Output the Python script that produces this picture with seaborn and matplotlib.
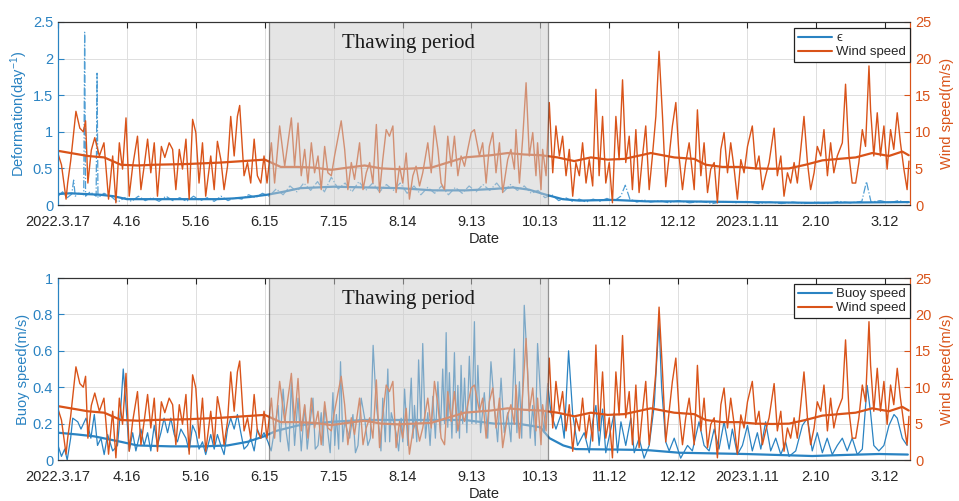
import matplotlib
matplotlib.use('Agg')
import matplotlib.pyplot as plt
from matplotlib.lines import Line2D
import pandas as pd
import seaborn as sns

# x axis: days since 2022-03-17
tick_days = [0, 30, 60, 90, 120, 150, 180, 210, 240, 270, 300, 330, 360]
tick_labels = ['2022.3.17', '4.16', '5.16', '6.15', '7.15', '8.14', '9.13',
               '10.13', '11.12', '12.12', '2023.1.11', '2.10', '3.12']
thaw_start, thaw_end = 91.8, 213.5

# raw wind speed (day, m/s)
wind_raw = [
    (0, 7.0), (1.5, 5.5), (3.5, 0.8), (4.2, 3.0), (5.5, 6.0), (7.8, 12.8), (9.5, 10.5), (11, 10.0), (12, 11.5), (13, 3.0),
    (14.5, 7.5), (16, 9.2), (18, 6.7), (20, 8.5), (22, 0.8), (23.8, 6.7), (25.2, 0.3), (26.7, 8.5), (28.1, 4.9), (29.6, 11.9),
    (31, 1.2), (32.5, 5.3), (34.6, 9.4), (36.1, 2.1), (37.5, 5.3), (39, 9.0), (40.4, 4.4), (41.9, 8.5), (43.3, 1.2), (45, 8.0),
    (46.5, 6.5), (48.4, 8.5), (49.9, 7.6), (51.3, 2.1), (52.8, 7.6), (54.2, 4.9), (55.7, 9.0), (57.1, 0.8), (58.6, 11.7), (60, 9.9),
    (61.4, 3.0), (62.9, 8.5), (64.3, 1.2), (66.5, 6.7), (68, 2.1), (69.4, 8.7), (70.9, 6.2), (72.3, 2.1), (73.8, 5.3), (75.2, 12.1),
    (76.7, 6.7), (78.1, 12.1), (79.1, 13.6), (81, 4.0), (82.5, 5.8), (83.9, 3.0), (85.4, 9.0), (86.8, 4.0), (88.3, 3.0), (89.7, 6.7),
    (91.0, 3.0), (92.9, 8.5), (94.3, 3.0), (96.5, 10.8), (98.7, 5.3), (101.6, 11.9), (103, 5.3), (104.5, 11.2), (105.9, 4.0), (107.4, 7.6),
    (108.8, 3.0), (110.3, 8.5), (111.7, 4.4), (113.2, 6.7), (114.6, 2.1), (116.1, 8.0), (117.5, 4.4), (119, 4.0), (120.4, 6.7), (123.3, 11.5),
    (124.8, 7.6), (126.2, 2.1), (127.7, 5.8), (129.1, 3.5), (131.3, 8.5), (132.8, 2.1), (134.2, 4.4), (135.7, 5.8), (137.1, 3.0), (138.6, 11.0),
    (140, 1.7), (141.4, 6.2), (142.9, 10.3), (144.3, 9.4), (145.8, 10.8), (147.2, 1.7), (148.7, 5.3), (150.1, 3.0), (151.6, 7.1), (153, 0.8),
    (154.5, 4.0), (155.9, 5.3), (157.4, 2.6), (158.8, 4.4), (161, 8.5), (162.5, 4.4), (163.9, 10.8), (165.4, 7.6), (166.8, 3.0), (168.3, 2.1),
    (169.7, 9.4), (171.2, 5.3), (172.6, 9.4), (174.1, 4.0), (175.5, 6.7), (177, 5.3), (178.4, 7.6), (179.9, 9.9), (181.3, 10.3),
    (183.5, 6.7), (184.9, 8.5), (186.4, 3.0), (187.8, 8.0), (189.3, 9.9), (190.7, 4.4), (192.2, 8.5), (193.6, 1.7), (195.8, 6.2), (197.2, 7.6),
    (198.7, 4.9), (199.4, 10.3), (200.9, 3.0), (202.3, 9.0), (203.8, 16.7), (205.2, 6.7), (206.7, 9.9), (208.1, 4.0), (208.8, 8.5), (210.3, 2.1),
    (211, 7.6), (212.5, 4.0), (213.9, 14.0), (215.4, 4.4), (216.8, 10.8), (218.3, 6.7), (219.7, 9.4), (221.2, 4.0), (222.6, 7.6), (224.1, 1.2),
    (225.5, 5.8), (227, 4.0), (228.4, 8.5), (229.9, 3.0), (231.3, 6.2), (232.8, 2.6), (234.2, 15.8), (235.6, 4.0), (237.1, 12.1), (238.5, 3.0),
    (240, 5.8), (241.4, 0.3), (242.9, 12.1), (244.3, 6.2), (245.8, 17.1), (247.2, 5.8), (248.7, 9.4), (250.1, 2.1), (251.6, 10.3), (253, 1.7),
    (254.5, 6.7), (255.9, 10.8), (257.4, 2.1), (258.8, 6.7), (260.3, 12.1), (261.7, 21.0), (263.2, 12.1), (264.6, 2.5), (266.1, 6.7), (267.5, 10.8),
    (269, 14.0), (270.4, 6.7), (271.9, 2.1), (273.3, 5.8), (274.8, 8.5),
    (277, 2.1), (278.4, 13.0), (279.9, 4.0), (281.3, 8.5), (282.8, 1.7), (284.2, 4.9), (285.7, 5.8), (287.1, 0.3), (288.6, 7.6), (290, 9.9),
    (291.5, 4.4), (292.9, 8.5), (294.4, 4.9), (295.8, 0.8), (297.3, 6.2), (298.7, 4.4), (300.2, 8.0), (302.3, 10.8), (303.8, 4.9), (305.2, 6.7),
    (306.7, 2.1), (308.1, 4.0), (309.6, 5.8), (311.8, 10.5), (313.2, 4.0), (314.7, 6.7), (316.1, 1.2), (317.6, 4.4), (319, 3.0), (320.5, 5.8),
    (321.9, 3.0), (323.4, 7.6), (324.8, 12.1), (326.3, 5.8), (327.7, 2.1), (329.2, 4.4), (330.6, 8.0), (332.1, 6.7), (333.5, 10.3), (335, 4.0),
    (336.4, 8.5), (337.8, 4.4), (339.3, 6.7), (341.5, 8.5), (342.9, 16.5), (344.4, 6.7), (345.8, 3.0), (347.3, 3.0), (348.7, 5.8), (350.2, 10.3),
    (351.6, 8.0), (353.1, 19.0), (353.8, 13.0), (355.2, 6.7), (356.7, 12.6), (358.1, 6.7), (359.6, 10.8), (361, 4.9), (362.5, 10.3), (363.9, 7.6),
    (365.4, 12.6), (366.8, 8.5), (368.3, 4.9), (369.7, 2.1), (370.5, 6.0),
]

# smoothed wind speed (day, m/s)
wind_avg = [
    (0, 7.4), (12.9, 6.7), (20.1, 6.5), (27.4, 5.5), (34.6, 5.4), (41.9, 5.5), (56.4, 5.6), (70.9, 5.8), (85.4, 6.1), (90, 6.2),
    (97, 5.2), (104.5, 5.2), (111.7, 5.1), (119, 4.8), (126, 5.1), (133.5, 5.4), (140.7, 5.0), (148, 4.9), (155, 5.0), (162.5, 5.1),
    (169.7, 5.8), (177, 6.5), (188.5, 6.8), (195.8, 7.1), (203, 6.9), (210.3, 6.8), (217.5, 6.5), (224.8, 6.0), (232, 6.5), (239.3, 6.2),
    (246.5, 6.3), (253.8, 6.8), (258.1, 7.1), (268.3, 6.5), (277, 6.3), (282, 5.5), (289.3, 5.2), (296.5, 5.2), (303.8, 5.0), (311, 4.95),
    (318.3, 5.0), (325.5, 5.5), (332.8, 6.1), (340, 6.3), (347.3, 6.5), (354.5, 7.1), (361.8, 6.7), (367.6, 7.3), (370.4, 6.8),
]

# raw deformation rate (day, 1/day)
eps_raw = [
    (0, 0.12), (2, 0.18), (4, 0.10), (6, 0.15), (6.8, 0.34), (7.5, 0.12), (9, 0.16), (11.2, 0.14), (11.6, 2.36), (12, 0.12),
    (14, 0.18), (16.6, 0.12), (17, 1.8), (17.4, 0.10), (20, 0.16), (23, 0.12), (26, 0.04), (29, 0.10), (32, 0.05), (35, 0.12),
    (38, 0.06), (41, 0.10), (44, 0.05), (47, 0.12), (50, 0.06), (53, 0.10), (56, 0.05), (59, 0.12), (62, 0.06), (65, 0.10),
    (68, 0.05), (71, 0.12), (74, 0.06), (77, 0.10), (80, 0.08), (83, 0.14), (86, 0.10), (89, 0.16), (92, 0.12), (95, 0.22),
    (98, 0.14), (101, 0.26), (104, 0.18), (107, 0.30), (110, 0.20), (113, 0.32), (116, 0.18), (119, 0.38), (122, 0.22), (125, 0.30),
    (128, 0.18), (131, 0.32), (134, 0.20), (137, 0.30), (140, 0.18), (143, 0.28), (146, 0.20), (149, 0.30), (152, 0.16), (155, 0.26),
    (158, 0.14), (161, 0.24), (164, 0.16), (167, 0.26), (170, 0.14), (173, 0.24), (176, 0.16), (179, 0.26), (182, 0.18), (185, 0.28),
    (188, 0.20), (191, 0.30), (194, 0.18), (197, 0.28), (200, 0.20), (203, 0.26), (206, 0.16), (209, 0.20), (212, 0.10), (215, 0.14),
    (218, 0.06), (221, 0.10), (224, 0.05), (227, 0.08), (230, 0.04), (233, 0.08), (236, 0.05), (239, 0.09), (242, 0.05), (245, 0.12),
    (247, 0.27), (249, 0.08), (252, 0.04), (255, 0.07), (258, 0.04), (262, 0.06), (266, 0.03), (270, 0.06), (275, 0.03), (280, 0.05),
    (285, 0.02), (290, 0.05), (295, 0.03), (300, 0.05), (305, 0.02), (310, 0.04), (315, 0.02), (320, 0.04), (325, 0.02), (330, 0.04),
    (335, 0.02), (340, 0.05), (345, 0.03), (350, 0.05), (352, 0.32), (354, 0.04), (358, 0.06), (362, 0.03), (366, 0.06), (370, 0.03),
]

# smoothed deformation rate
eps_avg = [
    (0, 0.15), (5.4, 0.16), (18.4, 0.14), (24.2, 0.12), (30, 0.08), (40, 0.08), (54.6, 0.08), (69, 0.08), (76.4, 0.09), (83.6, 0.11),
    (91, 0.14), (98, 0.18), (105.4, 0.23), (120, 0.25), (134.3, 0.24), (148.8, 0.23), (163.3, 0.20), (177.8, 0.20), (190, 0.22), (198, 0.24),
    (205, 0.21), (212.5, 0.14), (219.7, 0.08), (227, 0.06), (241.5, 0.07), (256, 0.05), (270.5, 0.05), (299.4, 0.04), (328.4, 0.03), (370.5, 0.04),
]

# raw buoy drift speed (day, m/s)
buoy_raw = [
    (0, 0.08), (1.5, 0.02), (2.9, 0.06), (4, 0.0), (5.5, 0.12), (6.4, 0.23), (8.6, 0.21), (10, 0.17), (12.2, 0.23), (14.3, 0.12),
    (15.8, 0.25), (17.2, 0.08), (18.7, 0.12), (20.1, 0.03), (21.6, 0.14), (23.8, 0.05), (25.9, 0.08), (27.4, 0.30), (28.4, 0.50), (29.6, 0.30),
    (31, 0.05), (32.5, 0.15), (33.9, 0.05), (36.1, 0.17), (37.5, 0.08), (39, 0.15), (40.4, 0.05), (41.9, 0.19), (43.3, 0.08), (44.8, 0.15),
    (46.2, 0.23), (47.7, 0.15), (49.1, 0.23), (50.6, 0.14), (52, 0.10), (53.5, 0.17), (55.7, 0.12), (57.1, 0.05), (58.6, 0.19), (60, 0.15),
    (61.4, 0.06), (62.9, 0.10), (64.3, 0.03), (66.5, 0.14), (68, 0.06), (69.4, 0.14), (70.9, 0.08), (72.3, 0.03), (73.8, 0.17), (75.2, 0.23),
    (76.7, 0.17), (78.1, 0.25), (79.6, 0.15), (81, 0.06), (82.5, 0.08), (83.9, 0.12), (85.4, 0.05), (86.8, 0.17), (88.3, 0.12), (89.7, 0.15),
    (91.4, 0.10), (92.8, 0.05), (94.3, 0.17), (95.8, 0.30), (96.8, 0.10), (98, 0.39), (99.4, 0.15), (100.5, 0.05), (101.6, 0.43), (103, 0.08),
    (104.5, 0.34), (105.9, 0.05), (107.4, 0.30), (108.5, 0.06), (109.6, 0.19), (111, 0.34), (112, 0.06), (113.2, 0.08), (114.6, 0.26), (115.4, 0.08),
    (116.1, 0.30), (117.5, 0.15), (118.5, 0.04), (119.7, 0.37), (120.5, 0.08), (121.2, 0.25), (122.2, 0.06), (123, 0.54), (124, 0.10), (124.8, 0.21),
    (127, 0.12), (128.4, 0.25), (129.5, 0.04), (130.6, 0.08), (132, 0.34), (133.5, 0.23), (134.9, 0.08), (136, 0.12), (137.2, 0.63), (138.6, 0.30),
    (140, 0.15), (140.6, 0.05), (141.4, 0.34), (142.5, 0.10), (143.6, 0.50), (144.4, 0.10), (145.1, 0.26), (147.2, 0.15), (148.3, 0.05), (149.4, 0.23),
    (150.1, 0.10), (150.9, 0.39), (152.3, 0.08), (153.8, 0.45), (154.6, 0.12), (155.2, 0.30), (156.2, 0.10), (157, 0.55), (158, 0.20), (158.8, 0.64),
    (160, 0.12), (161, 0.26), (162, 0.08), (163.2, 0.35), (164.3, 0.12), (165.4, 0.43), (166.5, 0.15), (167.5, 0.50), (168.3, 0.20), (169, 0.70),
    (169.7, 0.18), (170.4, 0.48), (171.5, 0.12), (172.6, 0.59), (173.4, 0.15), (174.1, 0.41), (174.8, 0.12), (175.5, 0.52), (176.2, 0.20), (177, 0.45),
    (178, 0.15), (179.1, 0.57), (180.2, 0.20), (181.3, 0.76), (182, 0.20), (182.8, 0.52),
    (184, 0.15), (185.6, 0.37), (187.1, 0.12), (188.5, 0.54), (190, 0.30), (191.4, 0.10), (192.9, 0.45), (194.3, 0.15), (195.8, 0.26), (197.2, 0.10),
    (198.7, 0.61), (199.8, 0.15), (200.9, 0.43), (201.9, 0.12), (203, 0.85), (204.5, 0.48), (205.6, 0.12), (206.7, 0.30), (207.8, 0.08), (208.8, 0.64),
    (210.3, 0.30), (211.7, 0.15), (213.2, 0.42), (214.6, 0.26), (216.8, 0.17), (219, 0.25), (220.4, 0.12), (222.3, 0.60), (224.1, 0.25), (226.2, 0.08),
    (229.1, 0.15), (231.3, 0.04), (232.8, 0.21), (234.2, 0.30), (235.6, 0.08), (237.1, 0.28), (238.5, 0.04), (240.7, 0.17), (242.2, 0.26), (243.6, 0.04),
    (245.1, 0.21), (247.2, 0.08), (249.4, 0.23), (250.9, 0.04), (253, 0.12), (255.2, 0.01), (257.4, 0.08), (259.6, 0.30), (260.7, 0.55), (261.7, 0.76),
    (262.8, 0.40), (264.6, 0.10), (266.1, 0.05), (268.3, 0.12), (271.1, 0.01), (274.1, 0.08),
    (276.2, 0.05), (279.1, 0.21), (281.3, 0.08), (283.5, 0.05), (285.7, 0.17), (287.8, 0.06), (290, 0.21), (292.2, 0.06), (293.6, 0.17), (295.8, 0.03),
    (298, 0.08), (300.2, 0.19), (302.3, 0.05), (304.5, 0.15), (306, 0.06), (308.1, 0.21), (310.3, 0.05), (312.5, 0.12), (314.7, 0.03), (316.8, 0.10),
    (318.3, 0.02), (321.2, 0.05), (324.1, 0.19), (326.3, 0.23), (328.4, 0.05), (330.6, 0.15), (332.8, 0.04), (334.9, 0.12), (337.1, 0.03), (339.3, 0.08),
    (341.5, 0.12), (343.6, 0.05), (345.8, 0.12), (348, 0.03), (350.2, 0.06), (352.3, 0.41), (353.8, 0.26), (355.2, 0.08), (357.4, 0.05), (359.6, 0.08),
    (361.8, 0.19), (364, 0.25), (365.4, 0.23), (367.6, 0.12), (369.7, 0.08),
]

# smoothed buoy speed
buoy_avg = [
    (0, 0.15), (8.6, 0.14), (15.8, 0.13), (27.4, 0.10), (34.6, 0.08), (49, 0.075), (63, 0.075), (73.8, 0.08), (82.5, 0.10), (89.7, 0.13),
    (95, 0.16), (104.5, 0.19), (119, 0.21), (133.5, 0.22), (148, 0.22), (162.5, 0.22), (177, 0.22), (190, 0.20), (200, 0.20), (210, 0.18),
    (214, 0.12), (220, 0.08), (225.5, 0.06), (240, 0.058), (256, 0.055), (270.5, 0.04), (299.4, 0.033), (328.4, 0.022), (343, 0.028), (357.4, 0.033),
    (370, 0.03),
]

BLUE = '#2a83c2'
BLUE_LIGHT = '#4f9dd3'
ORANGE = '#d95319'
DARK = '#262626'

sns.set_style('white')
plt.rcParams['font.family'] = ['Liberation Sans', 'DejaVu Sans']
plt.rcParams['mathtext.default'] = 'regular'


def frame(pts):
    return pd.DataFrame(pts, columns=['day', 'val'])


def draw_panel(ax, left_raw, left_avg, left_max, left_ticks, left_ticklabels,
               left_label, left_name, left_ls, left_raw_color):
    ax2 = ax.twinx()

    sns.lineplot(data=frame(left_raw), x='day', y='val', ax=ax, color=left_raw_color,
                 lw=0.9, ls=left_ls, estimator=None, sort=False, legend=False)
    sns.lineplot(data=frame(left_avg), x='day', y='val', ax=ax, color=BLUE,
                 lw=1.6, estimator=None, sort=False, legend=False)
    sns.lineplot(data=frame(wind_raw), x='day', y='val', ax=ax2, color=ORANGE,
                 lw=1.0, estimator=None, sort=False, legend=False)
    sns.lineplot(data=frame(wind_avg), x='day', y='val', ax=ax2, color=ORANGE,
                 lw=1.6, estimator=None, sort=False, legend=False)

    # thawing period shading sits on top of the data
    ax2.axvspan(thaw_start, thaw_end, facecolor='0.8', alpha=0.5,
                edgecolor='0.2', lw=0.9, zorder=5)
    ax2.text((thaw_start + thaw_end) / 2, 22, 'Thawing period',
             family='Liberation Serif', fontsize=15, ha='center', va='center',
             color='#1a1a1a', zorder=6)

    ax.set_xlim(0, 371)
    ax.set_ylim(0, left_max)
    ax.set_yticks(left_ticks)
    ax.set_yticklabels(left_ticklabels)
    ax.set_xticks(tick_days)
    ax.set_xticklabels(tick_labels)
    ax2.set_ylim(0, 25)
    ax2.set_yticks([0, 5, 10, 15, 20, 25])
    ax2.set_yticklabels(['0', '5', '10', '15', '20', '25'])

    ax.grid(True, color='#dedede', lw=0.7)
    ax.set_axisbelow(True)

    ax.tick_params(axis='x', direction='in', top=True, length=4, color=DARK,
                   labelcolor=DARK, labelsize=10.5, pad=7)
    ax.tick_params(axis='y', direction='in', length=4, colors=BLUE, labelsize=10.5)
    ax2.tick_params(axis='y', direction='in', length=4, colors=ORANGE, labelsize=10.5)

    for a in (ax, ax2):
        a.spines['top'].set_color('#333333')
        a.spines['bottom'].set_color('#333333')
        a.spines['left'].set_color(BLUE)
        a.spines['right'].set_color(ORANGE)
        for s in a.spines.values():
            s.set_linewidth(0.8)

    ax.set_xlabel('Date', fontsize=10.5, color=DARK, labelpad=2)
    ax.set_ylabel(left_label, fontsize=10.5, color=BLUE, labelpad=2)
    ax2.set_ylabel('Wind speed(m/s)', fontsize=10.5, color=ORANGE, labelpad=6)

    handles = [Line2D([], [], color=BLUE, lw=1.5), Line2D([], [], color=ORANGE, lw=1.5)]
    leg = ax2.legend(handles, [left_name, 'Wind speed'], loc='upper right',
                     bbox_to_anchor=(1.0, 0.967), borderaxespad=0, fancybox=False,
                     edgecolor='#222222', framealpha=1, fontsize=9.5,
                     handlelength=2.6, handletextpad=0.3, labelspacing=0.15,
                     borderpad=0.3)
    leg.get_frame().set_linewidth(0.9)
    leg.set_zorder(10)


fig = plt.figure(figsize=(9.59, 5.01), dpi=100)
ax_top = fig.add_axes([0.0605, 0.5908, 0.8885, 0.3653])
ax_bot = fig.add_axes([0.0605, 0.0818, 0.8885, 0.3633])

draw_panel(ax_top, eps_raw, eps_avg, 2.5, [0, 0.5, 1, 1.5, 2, 2.5],
           ['0', '0.5', '1', '1.5', '2', '2.5'],
           'Deformation(day$^{-1}$)', '\u03f5', '-.', BLUE_LIGHT)
draw_panel(ax_bot, buoy_raw, buoy_avg, 1.0, [0, 0.2, 0.4, 0.6, 0.8, 1.0],
           ['0', '0.2', '0.4', '0.6', '0.8', '1'],
           'Buoy speed(m/s)', 'Buoy speed', '-', BLUE)

fig.savefig('out.png', dpi=100)
